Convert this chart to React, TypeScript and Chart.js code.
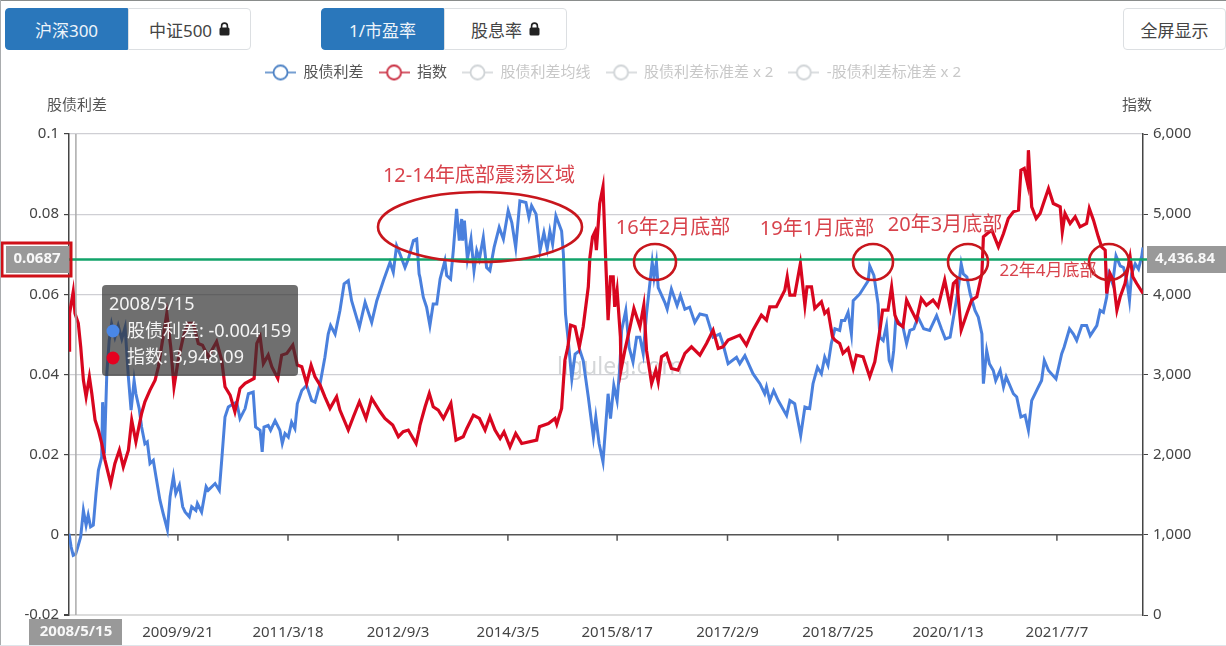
import React, { useEffect, useRef } from "react";
import { Chart, registerables } from "chart.js";

Chart.register(...registerables);

const FONT = "'Noto Sans','Noto Sans CJK SC',sans-serif";

const tickDays = [363, 730, 1097, 1463, 1827, 2195, 2563, 2930, 3293];
const tickLabels = ["2009/9/21", "2011/3/18", "2012/9/3", "2014/3/5", "2015/8/17", "2017/2/9", "2018/7/25", "2020/1/13", "2021/7/7"];

const blueDays = [0,7,14,22,31,39,48,57,64,72,81,90,98,109,112,118,126,134,142,153,164,176,187,198,207,217,223,234,242,253,261,270,281,290,303,314,328,337,348,356,368,379,387,401,409,423,428,442,457,464,487,501,509,520,531,548,559,
570,587,598,614,622,637,644,650,664,672,687,703,711,720,731,742,753,761,776,792,809,820,837,853,864,872,887,903,917,931,942,968,987,1009,1026,1048,1070,1081,1092,1103,1120,1131,1148,1159,1167,
1170,1181,1192,1203,1214,1226,1237,1253,1259,1272,1281,1292,1301,1309,1312,1318,1328,1340,1350,1359,1368,1381,1392,1403,1417,1434,1448,1464,1476,1489,1503,1523,1533,1542,1557,1570,1583,1594,1603,1612,1623,1642,1648,1655,1663,1676,1687,1703,1714,1731,1748,
1756,1767,1780,1797,1805,1816,1827,1836,1842,1856,1867,1880,1892,1903,1914,1925,1936,1944,1950,1958,1964,1986,1994,2008,2027,2038,2053,2069,2086,2103,2125,2147,2169,2180,2197,2225,2236,2253,2280,2303,2319,2325,
2336,2349,2364,2392,2403,2419,2439,2453,2469,2480,2495,2508,2519,2530,2541,2553,2569,2575,2586,2597,2608,2614,2636,2664,2669,2683,2697,2703,2714,2725,2734,2742,2749,2756,2780,2792,2803,2816,2830,2849,2869,2892,2908,2921,
2937,2954,2965,2974,2981,2993,3004,3020,3031,3043,3048,3059,3068,3081,3089,3104,3115,3124,3148,3159,3173,3187,3198,3209,3228,3242,3251,3265,3290,3309,3317,3335,3348,3359,3376,3392,3404,3426,3437,3448,3459,3466,3479,3490,3504,3515,3526,3535,3542,3554,3565,3576,3580];

const blueValues = [0.0003,-0.003,-0.0051,-0.0048,-0.0026,-0.0005,0.0061,0.0024,0.0049,0.002,0.0024,0.0103,0.0161,0.0194,0.0331,0.0203,0.0402,0.0485,0.0526,0.0493,0.0522,0.0489,0.0518,0.0393,0.0311,0.0385,0.0352,0.0315,0.0269,0.0227,0.0232,0.0178,0.0186,0.0145,0.0087,0.0053,0.0013,0.0095,0.0145,0.0103,0.0124,0.007,0.0057,0.0045,0.007,0.0061,0.0078,0.0057,0.012,0.0111,0.0128,0.0111,0.0186,0.0294,0.0319,0.0327,0.0331,
0.029,0.0315,0.0352,0.0356,0.0269,0.0261,0.0207,0.0269,0.0273,0.0261,0.0285,0.0261,0.0228,0.0253,0.0244,0.0281,0.0265,0.0327,0.036,0.0373,0.0335,0.0331,0.0377,0.0443,0.0501,0.0522,0.0501,0.0559,0.0626,0.0634,0.0584,0.0518,0.058,0.053,0.0584,0.0634,0.068,0.0655,0.0721,0.0701,0.0667,0.0688,0.0734,0.0738,0.0651,
0.0642,0.0593,0.0568,0.0522,0.0576,0.0576,0.0638,0.0684,0.0647,0.0638,0.0709,0.0813,0.0734,0.0788,0.0734,0.0784,0.0688,0.0738,0.0659,0.0709,0.0688,0.0742,0.0667,0.0659,0.0717,0.0767,0.0738,0.0809,0.0779,0.0717,0.0833,0.0829,0.0792,0.0821,0.08,0.0709,0.0754,0.0713,0.0758,0.0725,0.0796,0.0758,0.07,0.0551,0.0493,0.0389,0.0451,0.046,0.0435,0.0344,0.0244,
0.0294,0.0228,0.0182,0.0352,0.029,0.0373,0.0335,0.0418,0.051,0.056,0.0468,0.0431,0.0493,0.0493,0.0452,0.0551,0.0626,0.068,0.0642,0.068,0.0617,0.058,0.0563,0.0613,0.0572,0.0597,0.0563,0.0568,0.053,0.0551,0.0547,0.0493,0.0501,0.0476,0.0427,0.0443,0.0427,0.0447,0.0402,0.0377,0.0352,0.0369,
0.0335,0.036,0.0335,0.0298,0.0335,0.0327,0.0248,0.0319,0.0315,0.0377,0.0418,0.0402,0.0443,0.0423,0.0477,0.0514,0.051,0.0535,0.0535,0.0555,0.0501,0.0584,0.0601,0.0634,0.0671,0.0647,0.0576,0.0493,0.0485,0.0522,0.0435,0.0418,0.046,0.0539,0.0518,0.0477,0.051,0.0514,0.0543,0.0514,0.051,0.0547,0.0514,0.0489,
0.0493,0.0568,0.0618,0.0676,0.0651,0.0643,0.0601,0.056,0.0543,0.0501,0.0377,0.046,0.0427,0.041,0.0385,0.041,0.0369,0.0394,0.0352,0.0344,0.0294,0.0298,0.0261,0.0335,0.0364,0.0385,0.0435,0.041,0.0389,0.0452,0.0468,0.0514,0.0501,0.0485,0.0522,0.0522,0.0497,0.0522,0.056,0.0555,0.0593,0.0651,0.0626,0.0696,0.0671,0.0667,0.0634,0.0585,0.0651,0.0676,0.0663,0.0696,0.0717];

const redDays = [0,2,14,20,31,39,48,57,68,76,87,98,109,120,139,153,168,181,198,209,223,242,253,270,287,298,326,339,350,364,381,398,414,431,445,464,492,509,520,537,553,
570,587,617,626,637,648,664,676,696,709,726,746,761,776,792,807,820,837,853,870,892,903,931,948,968,990,1009,1037,1053,1079,1098,1114,1131,1157,1167,
1170,1187,1201,1214,1231,1248,1273,1290,1314,1326,1348,1368,1387,1403,1420,1437,1450,1470,1489,1509,1559,1568,1598,1620,1626,1642,1653,1663,1672,1687,1701,1714,1731,
1736,1745,1753,1758,1769,1780,1789,1797,1805,1814,1819,1827,1838,1840,1853,1869,1883,1903,1916,1925,1942,1956,1964,1975,1992,2008,2030,2053,2075,2103,2125,2147,2164,2180,2197,2236,2258,2280,2308,2325,2336,
2358,2386,2394,2403,2419,2438,2453,2460,2475,2486,2508,2519,2530,2545,2553,2569,2580,2597,2614,2625,2647,2669,2686,2703,2712,2730,2742,2753,2764,2780,2792,2808,2825,2841,2858,2880,2897,2919,
2937,2948,2959,2974,2993,3009,3026,3043,3048,3061,3076,3098,3115,3131,3148,3165,3173,3184,3195,3198,3209,3224,3237,3248,3265,3281,3304,3311,3320,3337,3354,3370,3392,3401,3415,3431,3442,3454,3459,3470,3481,3493,3504,3520,3537,3546,3559,3580];

const redValues = [3304,3761,4032,3761,3637,3346,2930,2722,2971,2764,2431,2306,2140,1932,1641,1891,2057,1849,2057,2431,2161,2514,2660,2805,2930,3096,3761,3346,2847,3179,3470,3637,3637,3387,3366,3221,3408,3179,2847,2743,2535,
2826,2889,2951,3388,3471,3138,3242,3097,2951,3242,3263,3367,3117,3097,2889,3117,2972,2868,2722,2577,2722,2556,2307,2473,2660,2452,2702,2535,2452,2369,2224,2286,2307,2140,2307,
2369,2597,2764,2597,2556,2452,2639,2182,2223,2327,2493,2452,2306,2472,2306,2202,2285,2098,2265,2140,2182,2348,2389,2452,2381,2576,3179,3345,3616,3595,3345,3595,4094,
4447,4717,4780,4551,5133,5341,4426,3678,4218,4218,3844,4052,3470,3055,3304,3574,3824,3595,3865,3304,2888,3054,2909,3221,3262,3075,3054,3262,3345,3242,3387,3553,3325,3345,3429,3491,3366,3553,3740,3678,3844,
3845,4052,4219,3990,3990,4385,3865,4094,4094,3824,3907,3761,3803,3470,3429,3387,3263,3325,3075,3242,3221,2972,3159,3554,3803,3803,4094,3741,3637,3595,3928,3803,3678,3948,3865,3928,3845,4177,
3844,4135,4177,3553,3761,3928,3969,4260,4717,4759,4801,4593,4759,4946,5029,5050,5549,5570,5383,5798,5092,4946,5008,5133,5320,5133,5092,4780,5008,4884,4967,4842,4884,5071,4925,4717,4593,4551,4011,4260,4177,3803,3969,4135,4468,4219,4135,4011];

const legendNames = ["股债利差", "指数", "股债利差均线", "股债利差标准差 x 2", "-股债利差标准差 x 2"];
const legendColors = ["#4a80c4", "#c8283c", "#cfd3d6", "#cfd3d6", "#cfd3d6"];
const legendTextColors = ["#555", "#555", "#c8c8c8", "#c8c8c8", "#c8c8c8"];

const crosshairDay = 23;
const crosshairDate = "2008/5/15";
const spreadLevel = 0.0687;
const spreadLabel = "0.0687";
const indexLabel = "4,436.84";
const tooltipSpread = "股债利差: -0.004159";
const tooltipIndex = "指数: 3,948.09";

const notes: [string, number, number, number][] = [
  ["12-14年底部震荡区域", 479, 176, 20],
  ["16年2月底部", 673, 228, 20],
  ["19年1月底部", 817, 229, 20],
  ["20年3月底部", 945, 225, 20],
  ["22年4月底部", 1048, 271, 17],
];
const rings: [number, number, number, number][] = [
  [480, 227, 102, 35],
  [655, 262, 21, 18],
  [873, 262, 20, 18],
  [968, 262, 20, 18],
  [1109, 262, 20, 18],
];

function legendIcon(color: string) {
  const c = document.createElement("canvas");
  c.width = 31;
  c.height = 18;
  const g = c.getContext("2d")!;
  g.strokeStyle = color;
  g.lineWidth = 1.6;
  g.beginPath();
  g.moveTo(0, 9);
  g.lineTo(8, 9);
  g.moveTo(23, 9);
  g.lineTo(31, 9);
  g.stroke();
  g.lineWidth = 1.8;
  g.beginPath();
  g.arc(15.5, 9, 7, 0, Math.PI * 2);
  g.fillStyle = "#fff";
  g.fill();
  g.stroke();
  return c;
}

const overlay = {
  id: "overlay",
  beforeInit(chart: any) {
    const fit = chart.legend.fit;
    chart.legend.fit = function () {
      fit.call(this);
      this.height = 84;
    };
  },
  beforeDatasetsDraw(chart: any) {
    const g = chart.ctx;
    g.save();
    g.fillStyle = "#d4d6d8";
    g.font = `23px ${FONT}`;
    g.textAlign = "left";
    g.textBaseline = "middle";
    g.fillText("liguleg.com", 557, 367);
    const { x } = chart.scales;
    const zero = chart.scales.y.getPixelForValue(0);
    g.strokeStyle = "#555";
    g.lineWidth = 1.5;
    tickDays.forEach((d) => {
      const p = x.getPixelForValue(d);
      g.beginPath();
      g.moveTo(p, zero);
      g.lineTo(p, zero + 6);
      g.stroke();
    });
    g.restore();
  },
  afterDatasetsDraw(chart: any) {
    const g = chart.ctx;
    const { x, y } = chart.scales;
    const area = chart.chartArea;
    g.save();
    const cx = x.getPixelForValue(crosshairDay);
    g.strokeStyle = "#aaa";
    g.lineWidth = 1.5;
    g.beginPath();
    g.moveTo(cx, area.top);
    g.lineTo(cx, area.bottom);
    g.stroke();

    const gy = y.getPixelForValue(spreadLevel);
    g.strokeStyle = "#12a36a";
    g.lineWidth = 2.5;
    g.beginPath();
    g.moveTo(area.left, gy);
    g.lineTo(1150, gy);
    g.stroke();

    g.strokeStyle = "#c8161d";
    g.lineWidth = 2.6;
    rings.forEach(([rx, ry, a, b]) => {
      g.beginPath();
      g.ellipse(rx, ry, a, b, 0, 0, Math.PI * 2);
      g.stroke();
    });

    g.textBaseline = "middle";
    g.textAlign = "center";
    g.fillStyle = "#d8434c";
    notes.forEach(([t, nx, ny, s]) => {
      g.font = `${s}px ${FONT}`;
      g.fillText(t, nx, ny);
    });

    g.fillStyle = "#555";
    g.font = `15px ${FONT}`;
    g.fillText("股债利差", 77, 106);
    g.fillText("指数", 1137, 106);

    g.fillStyle = "rgba(50,50,50,0.7)";
    g.beginPath();
    g.roundRect(102, 285, 196, 91, 4);
    g.fill();
    g.textAlign = "left";
    g.fillStyle = "#f4f4f4";
    g.font = `18px ${FONT}`;
    g.fillText(crosshairDate, 109, 305);
    g.fillText(tooltipSpread, 127, 332);
    g.fillText(tooltipIndex, 127, 358);
    g.fillStyle = "#4a87e6";
    g.beginPath();
    g.arc(113, 331, 6.5, 0, Math.PI * 2);
    g.fill();
    g.fillStyle = "#e5001f";
    g.beginPath();
    g.arc(113, 358, 6.5, 0, Math.PI * 2);
    g.fill();

    g.textAlign = "center";
    g.font = `bold 15px ${FONT}`;
    g.fillStyle = "#999";
    g.fillRect(6, 246, 63, 27);
    g.strokeStyle = "#cf1018";
    g.lineWidth = 3;
    g.strokeRect(2, 243, 69, 33);
    g.fillStyle = "#f8f8f8";
    g.fillText(spreadLabel, 37, 259);

    g.fillStyle = "#999";
    g.fillRect(1147, 246, 79, 27);
    g.fillStyle = "#f8f8f8";
    g.fillText(indexLabel, 1185, 259);

    g.fillStyle = "#999";
    g.fillRect(29, 619, 93, 27);
    g.fillStyle = "#f8f8f8";
    g.font = `bold 15px ${FONT}`;
    g.fillText(crosshairDate, 76, 632);
    g.restore();
  },
};

const Lock = () => (
  <svg width="11" height="14" viewBox="0 0 11 14" style={{ marginLeft: 7, verticalAlign: "-1px" }}>
    <path d="M2.6 6V4a2.9 2.9 0 0 1 5.8 0v2" fill="none" stroke="#222" strokeWidth="1.6" />
    <rect x="0.5" y="5.6" width="10" height="8" rx="1.5" fill="#222" />
  </svg>
);

const seg = (left: number, width: number, active: boolean, first: boolean): React.CSSProperties => ({
  position: "absolute",
  left,
  top: 8,
  width,
  height: 42,
  boxSizing: "border-box",
  display: "flex",
  alignItems: "center",
  justifyContent: "center",
  fontFamily: FONT,
  fontSize: 17,
  color: active ? "#eef4fa" : "#444",
  background: active ? "#2a77bb" : "#fff",
  border: active ? "1px solid #2a77bb" : "1px solid #dcdfe2",
  borderRadius: first ? "4px 0 0 4px" : "0 4px 4px 0",
});

export default function App() {
  const ref = useRef<HTMLCanvasElement>(null);
  useEffect(() => {
    const chart = new Chart(ref.current!, {
      type: "line",
      plugins: [overlay],
      data: {
        datasets: [
          {
            label: legendNames[0],
            data: blueDays.map((d, i) => ({ x: d, y: blueValues[i] })),
            borderColor: "#4a80dd",
            borderWidth: 3,
            pointRadius: 0,
            tension: 0,
            yAxisID: "y",
            order: 2,
          },
          {
            label: legendNames[1],
            data: redDays.map((d, i) => ({ x: d, y: redValues[i] })),
            borderColor: "#d8061f",
            borderWidth: 3.2,
            pointRadius: 0,
            tension: 0,
            yAxisID: "y1",
            order: 1,
          },
          { label: legendNames[2], data: [], yAxisID: "y" },
          { label: legendNames[3], data: [], yAxisID: "y" },
          { label: legendNames[4], data: [], yAxisID: "y" },
        ],
      },
      options: {
        responsive: false,
        animation: false,
        parsing: false,
        layout: { padding: { top: 50, left: 0, right: 0, bottom: 0 } },
        events: [],
        plugins: {
          tooltip: { enabled: false },
          legend: {
            position: "top",
            align: "center",
            labels: {
              usePointStyle: true,
              pointStyleWidth: 31,
              padding: 15,
              font: { family: FONT, size: 15 },
              generateLabels: () =>
                legendNames.map((t, i) => ({
                  text: t,
                  fontColor: legendTextColors[i],
                  pointStyle: legendIcon(legendColors[i]),
                  datasetIndex: i,
                  hidden: false,
                  lineWidth: 0,
                })),
            },
          },
        },
        scales: {
          x: {
            type: "linear",
            min: 0,
            max: 3580,
            afterBuildTicks: (s: any) => {
              s.ticks = tickDays.map((v) => ({ value: v }));
            },
            afterFit: (s: any) => {
              s.height = 31;
            },
            grid: { display: false },
            border: { display: false },
            ticks: {
              autoSkip: false,
              maxRotation: 0,
              padding: 1,
              color: "#444",
              font: { family: FONT, size: 15 },
              callback: (v: any) => tickLabels[tickDays.indexOf(v)] ?? "",
            },
          },
          y: {
            position: "left",
            min: -0.02,
            max: 0.1,
            afterFit: (s: any) => {
              s.width = 69;
            },
            border: { color: "#444", width: 1.5 },
            grid: {
              color: (c: any) => (Math.abs(c.tick.value) < 1e-9 ? "#555" : c.tick.value < -0.01 ? "#dcdcdc" : "#cfcfd4"),
              lineWidth: (c: any) => (Math.abs(c.tick.value) < 1e-9 ? 1.6 : c.tick.value < -0.01 ? 2 : 1.2),
              tickColor: "#444",
              tickLength: 5,
            },
            ticks: {
              stepSize: 0.02,
              padding: 5,
              color: "#444",
              font: { family: FONT, size: 15 },
              callback: (v: any) => String(Math.round(v * 100) / 100),
            },
          },
          y1: {
            position: "right",
            min: 0,
            max: 6000,
            afterFit: (s: any) => {
              s.width = 83;
            },
            border: { color: "#444", width: 1.5 },
            grid: { drawOnChartArea: false, tickColor: "#444", tickLength: 5 },
            ticks: {
              stepSize: 1000,
              padding: 5,
              color: "#444",
              font: { family: FONT, size: 15 },
              callback: (v: any) => Number(v).toLocaleString("en-US"),
            },
          },
        },
      },
    } as any);
    return () => chart.destroy();
  }, []);

  return (
    <div style={{ position: "fixed", left: 0, top: 0, width: 1226, height: 646, background: "#fff", overflow: "hidden", filter: "blur(0.4px)" }}>
      <canvas ref={ref} width={1226} height={646} style={{ display: "block", width: 1226, height: 646 }} />
      <div style={seg(5, 123, true, true)}>沪深300</div>
      <div style={seg(128, 123, false, false)}>
        中证500
        <Lock />
      </div>
      <div style={seg(321, 123, true, true)}>1/市盈率</div>
      <div style={seg(444, 123, false, false)}>
        股息率
        <Lock />
      </div>
      <div style={{ ...seg(1123, 103, false, true), borderRadius: 4 }}>全屏显示</div>
      <div style={{ position: "absolute", left: 0, top: 0, width: 1226, height: 1, background: "#8a8d8c" }} />
      <div style={{ position: "absolute", left: 0, top: 0, width: 1, height: 646, background: "#a9acae" }} />
      <div style={{ position: "absolute", left: 0, top: 645, width: 1226, height: 1, background: "#dfe5ea" }} />
    </div>
  );
}
